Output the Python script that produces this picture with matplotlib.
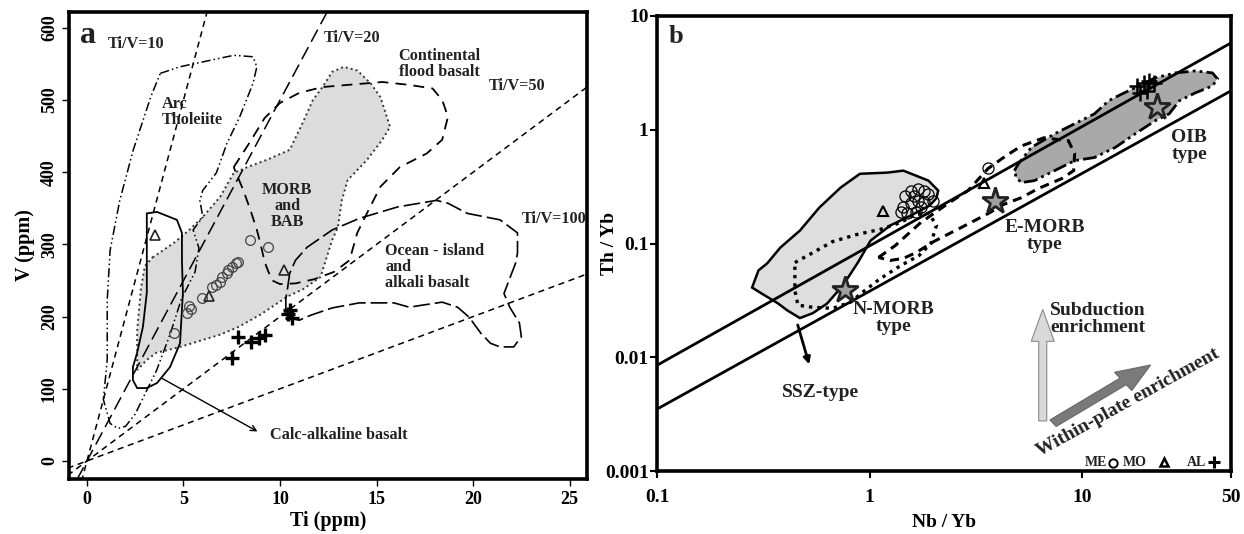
import matplotlib
matplotlib.use("Agg")
import matplotlib.pyplot as plt
import numpy as np
from matplotlib.patches import Polygon, FancyArrow

plt.rcParams['font.family'] = ['Liberation Serif', 'DejaVu Serif']
plt.rcParams['font.weight'] = 'bold'

# ---------------- Panel a data (Ti in 1000 ppm, V ppm) ----------------
ratio_values = [10, 20, 50, 100]
ratio_labels = ["Ti/V=10", "Ti/V=20", "Ti/V=50", "Ti/V=100"]

arc_ti = [3.8, 4.8, 7.6, 8.6, 8.8, 8.6, 7.9, 7.25, 6.7, 6.0, 5.85, 6.0, 5.5, 5.8, 5.6, 4.9, 4.3,
          3.6, 3.1, 2.5, 2.0, 1.6, 1.2, 0.85, 1.05, 1.05, 1.2, 1.7, 2.4, 3.3]
arc_v = [537, 546, 562, 560, 546, 523, 476, 440, 399, 375, 361, 338, 320, 295, 262, 225, 175,
         125, 98, 65, 48, 45, 52, 85, 140, 223, 292, 361, 431, 504]

calc_ti = [3.1, 3.63, 4.66, 4.92, 4.92, 4.97, 4.82, 4.3, 3.63, 3.1, 2.6, 2.38, 2.38, 2.6, 2.9,
           3.1, 3.1, 3.1]
calc_v = [343, 345, 334, 316, 278, 233, 163, 130, 108, 101, 101, 112, 130, 150, 186, 233, 278, 320]

morb_ti = [3.4, 4.5, 5.3, 6.0, 6.9, 7.6, 8.3, 9.3, 10.5, 11.2, 11.7, 12.2, 12.7, 13.3, 14.0, 14.7,
           15.2, 15.7, 15.3, 14.5, 13.5, 13.2, 13.0, 12.7, 12.1, 11.2, 10.4, 9.0, 7.8, 6.9, 5.8,
           4.7, 3.6, 3.1, 2.75, 2.6, 2.6, 2.8, 3.0]
morb_v = [282, 302, 320, 338, 366, 399, 407, 417, 431, 470, 500, 518, 539, 546, 541, 523,
          504, 463, 445, 417, 389, 361, 324, 306, 255, 238, 228, 203, 185, 175, 166,
          157, 150, 140, 130, 126, 180, 240, 270]

cfb_ti = [7.6, 8.4, 9.2, 10.0, 11.0, 12.2, 13.5, 15.3, 16.7, 17.9, 18.4, 18.7, 18.4, 17.6, 16.2,
          15.2, 14.5, 14.0, 13.6, 12.8, 11.8, 10.8, 10.0, 9.6, 9.4, 9.2, 9.0, 8.8, 8.5, 8.1]
cfb_v = [407, 440, 475, 496, 510, 518, 521, 525, 521, 516, 500, 477, 445, 426, 407,
         380, 343, 316, 278, 262, 252, 246, 245, 250, 262, 276, 300, 320, 345, 375]

oib_ti = [10.4, 10.5, 10.8, 11.4, 12.7, 14.1, 16.1, 18.1, 18.7, 19.7, 21.4, 22.3, 22.3, 22.2,
          21.6, 21.9, 22.4, 22.5, 22.1, 21.4, 20.9, 20.4, 19.8, 19.2, 18.4, 17.4, 16.7, 15.9,
          14.1, 12.7, 11.6, 11.0, 10.5, 10.3, 10.3]
oib_v = [241, 260, 278, 296, 320, 336, 352, 361, 357, 343, 334, 316, 288, 274,
         232, 213, 191, 172, 158, 158, 163, 177, 199, 213, 220, 216, 213, 219,
         219, 212, 202, 195, 198, 210, 225]

me_ti = [4.5, 5.2, 5.4, 5.3, 5.95, 6.5, 6.7, 6.9, 7.0, 7.25, 7.3, 7.5, 7.7, 7.8, 8.45, 9.4]
me_v = [177, 205, 210, 215, 226, 241, 244, 248, 255, 260, 265, 269, 274, 276, 306, 296]
mo_ti = [3.5, 10.2, 6.3]
mo_v = [313, 265, 228]
al_ti = [7.5, 7.8, 8.5, 8.9, 9.2, 10.4, 10.5, 10.6]
al_v = [143, 172, 165, 170, 175, 203, 209, 198]

# ---------------- Panel b data (Nb/Yb, Th/Yb) ----------------
array_upper_x = [0.1, 50]
array_upper_y = [0.0085, 5.8]
array_lower_x = [0.1, 50]
array_lower_y = [0.0035, 2.2]

ssz_x = [1.21, 1.44, 1.89, 2.10, 2.06, 1.91, 1.56, 1.25, 1.01, 0.88, 0.75, 0.63, 0.54, 0.47,
         0.41, 0.37, 0.31, 0.28, 0.30, 0.33, 0.38, 0.47, 0.58, 0.73, 0.90]
ssz_y = [0.42, 0.437, 0.357, 0.292, 0.25, 0.215, 0.176, 0.144, 0.106, 0.068, 0.043, 0.0296,
         0.0244, 0.0221, 0.0258, 0.0298, 0.0364, 0.041, 0.058, 0.067, 0.092, 0.13, 0.207, 0.31, 0.41]

nmorb_x = [0.445, 0.54, 0.67, 0.87, 1.12, 1.40, 1.64, 1.90, 2.06, 1.94, 1.70, 1.40, 1.12, 0.95,
           0.81, 0.67, 0.54, 0.46, 0.445]
nmorb_y = [0.068, 0.083, 0.104, 0.120, 0.133, 0.153, 0.180, 0.184, 0.144, 0.100, 0.078, 0.064,
           0.049, 0.0387, 0.0304, 0.0269, 0.0275, 0.0287, 0.0387]

emorb_x = [1.10, 1.32, 1.74, 2.33, 2.90, 3.60, 4.37, 5.17, 6.6, 8.6, 9.2, 9.1, 8.0, 6.2, 5.17,
           4.25, 3.6, 2.69, 2.0, 1.65, 1.44, 1.25]
emorb_y = [0.0754, 0.096, 0.153, 0.224, 0.292, 0.455, 0.59, 0.72, 0.85, 0.80, 0.615, 0.437,
           0.372, 0.304, 0.253, 0.220, 0.183, 0.138, 0.104, 0.083, 0.074, 0.071]

oibf_x = [4.79, 5.0, 5.76, 7.4, 9.2, 11.4, 13.3, 15.4, 17.7, 22.0, 27.4, 34.0, 40.9, 43.2, 40.9,
          34.0, 28.6, 25.6, 22.0, 17.7, 14.3, 11.4, 9.2, 7.4, 5.95, 5.17, 4.89]
oibf_y = [0.437, 0.50, 0.70, 0.92, 1.13, 1.38, 1.80, 2.07, 2.34, 2.86, 3.16, 3.29, 3.16, 2.80,
          2.43, 2.11, 1.80, 1.38, 1.20, 0.92, 0.70, 0.57, 0.535, 0.437, 0.357, 0.343, 0.38]

star_x = [0.767, 3.9, 22.5]
star_y = [0.0387, 0.238, 1.58]

b_me_x = [1.47, 1.56, 1.68, 1.80, 1.89, 1.98, 1.44, 1.56, 1.68, 1.80, 1.40, 1.50, 1.65, 1.74, 1.62, 3.6]
b_me_y = [0.26, 0.29, 0.30, 0.29, 0.27, 0.238, 0.21, 0.225, 0.238, 0.23, 0.19, 0.187, 0.19, 0.21, 0.26, 0.46]
b_mo_x = [1.16, 3.44]
b_mo_y = [0.195, 0.34]
b_al_x = [18.1, 19.5, 20.6, 21.8, 18.7, 20.2]
b_al_y = [2.43, 2.6, 2.69, 2.6, 2.11, 2.2]

fig = plt.figure(figsize=(12.44, 5.34), dpi=100)
fig.patch.set_facecolor('white')

# ======================= Panel a =======================
axa = fig.add_axes([69/1244, 1-479/534, (587-69)/1244, (479-12)/534])
axa.set_xlim(-0.93, 25.9)
axa.set_ylim(-25, 622)

axa.add_patch(Polygon(np.column_stack([morb_ti, morb_v]), closed=True, facecolor='#dcdcdc',
                      edgecolor='#333333', linestyle=(0, (1, 1.6)), lw=1.4, zorder=1))

ti_line = np.array([-1.0, 27.0])
ratio_styles = [(0, (4, 3)), (0, (9, 4)), (0, (4, 3)), (0, (4, 3))]
for r, ls in zip(ratio_values, ratio_styles):
    axa.plot(ti_line, ti_line * 1000 / r, color='black', lw=1.1, linestyle=ls, zorder=2)

axa.add_patch(Polygon(np.column_stack([arc_ti, arc_v]), closed=True, fill=False, edgecolor='black',
                      linestyle=(0, (6, 2, 1, 2, 1, 2)), lw=1.1, zorder=3))
axa.add_patch(Polygon(np.column_stack([calc_ti, calc_v]), closed=True, fill=False, edgecolor='black',
                      linestyle='-', lw=1.3, zorder=3))
axa.add_patch(Polygon(np.column_stack([cfb_ti, cfb_v]), closed=True, fill=False, edgecolor='black',
                      linestyle=(0, (6, 4)), lw=1.3, zorder=3))
axa.add_patch(Polygon(np.column_stack([oib_ti, oib_v]), closed=True, fill=False, edgecolor='black',
                      linestyle=(0, (10, 3)), lw=1.2, zorder=3))

axa.plot(me_ti, me_v, 'o', mfc='none', mec='#444444', mew=0.9, ms=7, zorder=5)
axa.plot(mo_ti, mo_v, '^', mfc='none', mec='#222222', mew=1.2, ms=7, zorder=5)
axa.plot(al_ti, al_v, '+', color='black', mew=2.4, ms=10, zorder=5)

axa.annotate('', xy=(8.96, 39), xytext=(3.78, 116),
             arrowprops=dict(arrowstyle='->', lw=1.0, color='black', mutation_scale=10))

tf = dict(fontweight='bold', color='#222222')
fa = 11.7
axa.text(-0.35, 590, 'a', fontsize=23, ha='left', va='center', **tf)
axa.text(1.09, 578, 'Ti/V=10', fontsize=fa, ha='left', va='center', **tf)
axa.text(12.24, 586, 'Ti/V=20', fontsize=fa, ha='left', va='center', **tf)
axa.text(20.8, 520, 'Ti/V=50', fontsize=fa, ha='left', va='center', **tf)
axa.text(22.5, 335, 'Ti/V=100', fontsize=fa, ha='left', va='center', **tf)
axa.text(18.26, 550, 'Continental\nflood basalt', fontsize=fa, ha='center', va='center',
         linespacing=1.0, **tf)
axa.text(3.89, 483, 'Arc\nTholeiite', fontsize=fa, ha='left', va='center', linespacing=1.0, **tf)
axa.text(10.37, 353, 'MORB\nand\nBAB', fontsize=fa, ha='center', va='center', linespacing=1.0, **tf)
axa.text(15.46, 269, 'Ocean - island\nand\nalkali basalt', fontsize=fa, ha='left', va='center',
         linespacing=1.0, **tf)
axa.text(9.49, 36, 'Calc-alkaline basalt', fontsize=fa, ha='left', va='center', **tf)

axa.set_xticks([0, 5, 10, 15, 20, 25])
axa.set_yticks([0, 100, 200, 300, 400, 500, 600])
axa.tick_params(axis='both', direction='out', length=5, width=1, labelsize=13)
axa.tick_params(axis='y', labelrotation=90, pad=3)
for lab in axa.get_yticklabels():
    lab.set_va('center')
axa.set_xlabel('Ti (ppm)', fontsize=14.5, fontweight='bold', labelpad=2)
axa.set_ylabel('V (ppm)', fontsize=14.5, fontweight='bold', labelpad=4)
for s in axa.spines.values():
    s.set_linewidth(2.6)

# ======================= Panel b =======================
axb = fig.add_axes([657/1244, 1-471/534, (1231-657)/1244, (471-16)/534])
axb.set_xscale('log')
axb.set_yscale('log')
axb.set_xlim(0.1, 50)
axb.set_ylim(0.001, 10)

axb.add_patch(Polygon(np.column_stack([ssz_x, ssz_y]), closed=True, facecolor='#dedede',
                      edgecolor='black', lw=1.8, zorder=1))
axb.add_patch(Polygon(np.column_stack([oibf_x, oibf_y]), closed=True, facecolor='#a9a9a9',
                      edgecolor='none', zorder=1))
axb.plot(array_upper_x, array_upper_y, color='black', lw=2.0, zorder=3)
axb.plot(array_lower_x, array_lower_y, color='black', lw=2.0, zorder=3)
axb.add_patch(Polygon(np.column_stack([oibf_x, oibf_y]), closed=True, fill=False,
                      edgecolor='black', linestyle=(0, (5, 1.5, 1, 1.5, 1, 1.5)), lw=2.0, zorder=4))
axb.add_patch(Polygon(np.column_stack([nmorb_x, nmorb_y]), closed=True, fill=False,
                      edgecolor='black', linestyle=(0, (1, 1.5)), lw=2.4, zorder=4))
axb.add_patch(Polygon(np.column_stack([emorb_x, emorb_y]), closed=True, fill=False,
                      edgecolor='black', linestyle=(0, (3, 2)), lw=2.2, zorder=4))

axb.plot(b_me_x, b_me_y, 'o', mfc='none', mec='black', mew=0.9, ms=8, zorder=6)
axb.plot(b_mo_x, b_mo_y, '^', mfc='none', mec='black', mew=1.5, ms=7, zorder=6)
axb.plot(b_al_x, b_al_y, '+', color='black', mew=1.8, ms=11, zorder=6)
axb.plot(star_x, star_y, '*', mfc='#a0a0a0', mec='#222222', mew=2.0, ms=20, zorder=7)

axb.annotate('', xy=(0.524, 0.0082), xytext=(0.455, 0.0203),
             arrowprops=dict(arrowstyle='-|>', lw=2.0, color='black', mutation_scale=10))

# enrichment arrows (axes fraction coordinates)
axb.add_patch(FancyArrow(0.672, 0.11, 0.0, 0.245, width=0.014, head_width=0.04, head_length=0.07,
                         length_includes_head=True, transform=axb.transAxes,
                         facecolor='#d9d9d9', edgecolor='#888888', lw=0.8, zorder=5))
axb.add_patch(FancyArrow(0.69, 0.105, 0.17, 0.128, width=0.018, head_width=0.05, head_length=0.06,
                         length_includes_head=True, transform=axb.transAxes,
                         facecolor='#7a7a7a', edgecolor='#666666', lw=0.8, zorder=5))

fb = 14
axb.text(0.02, 0.955, 'b', transform=axb.transAxes, fontsize=19, ha='left', va='center', **tf)
axb.text(0.685, 0.335, 'Subduction\nenrichment', transform=axb.transAxes, fontsize=fb,
         ha='left', va='center', linespacing=1.0, **tf)
axb.text(0.82, 0.15, 'Within-plate enrichment', transform=axb.transAxes, fontsize=fb,
         ha='center', va='center', rotation=29, rotation_mode='anchor', **tf)
axb.text(1.3, 0.031, 'N-MORB\ntype', fontsize=fb, ha='center', va='top', linespacing=1.0, **tf)
axb.text(6.64, 0.165, 'E-MORB\ntype', fontsize=fb, ha='center', va='top', linespacing=1.0, **tf)
axb.text(31.8, 1.02, 'OIB\ntype', fontsize=fb, ha='center', va='top', linespacing=1.0, **tf)
axb.text(0.585, 0.00493, 'SSZ-type', fontsize=fb, ha='center', va='center', **tf)

# legend text with markers
fl = 10
axb.text(0.746, 0.018, 'ME', transform=axb.transAxes, fontsize=fl, ha='left', va='center', **tf)
axb.plot([0.795], [0.018], 'o', transform=axb.transAxes, mfc='none', mec='black', mew=1.4, ms=6,
         clip_on=False)
axb.text(0.812, 0.018, 'MO', transform=axb.transAxes, fontsize=fl, ha='left', va='center', **tf)
axb.plot([0.884], [0.019], '^', transform=axb.transAxes, mfc='none', mec='black', mew=1.8, ms=6,
         clip_on=False)
axb.text(0.923, 0.018, 'AL', transform=axb.transAxes, fontsize=fl, ha='left', va='center', **tf)
axb.plot([0.970], [0.019], '+', transform=axb.transAxes, color='black', mew=2.2, ms=8,
         clip_on=False)

axb.set_xticks([0.1, 1, 10, 50])
axb.set_xticklabels(['0.1', '1', '10', '50'])
axb.set_yticks([0.001, 0.01, 0.1, 1, 10])
axb.set_yticklabels(['0.001', '0.01', '0.1', '1', '10'])
axb.minorticks_off()
axb.tick_params(axis='both', direction='out', length=5, width=1.5, labelsize=14)
axb.tick_params(axis='y', pad=1)
axb.tick_params(axis='x', pad=8)
axb.set_xlabel('Nb / Yb', fontsize=14, fontweight='bold', labelpad=6)
axb.set_ylabel('Th / Yb', fontsize=14, fontweight='bold')
axb.yaxis.set_label_coords(-0.068, 0.5)
for s in axb.spines.values():
    s.set_linewidth(2.6)

fig.savefig('out.png', dpi=100, facecolor='white')
